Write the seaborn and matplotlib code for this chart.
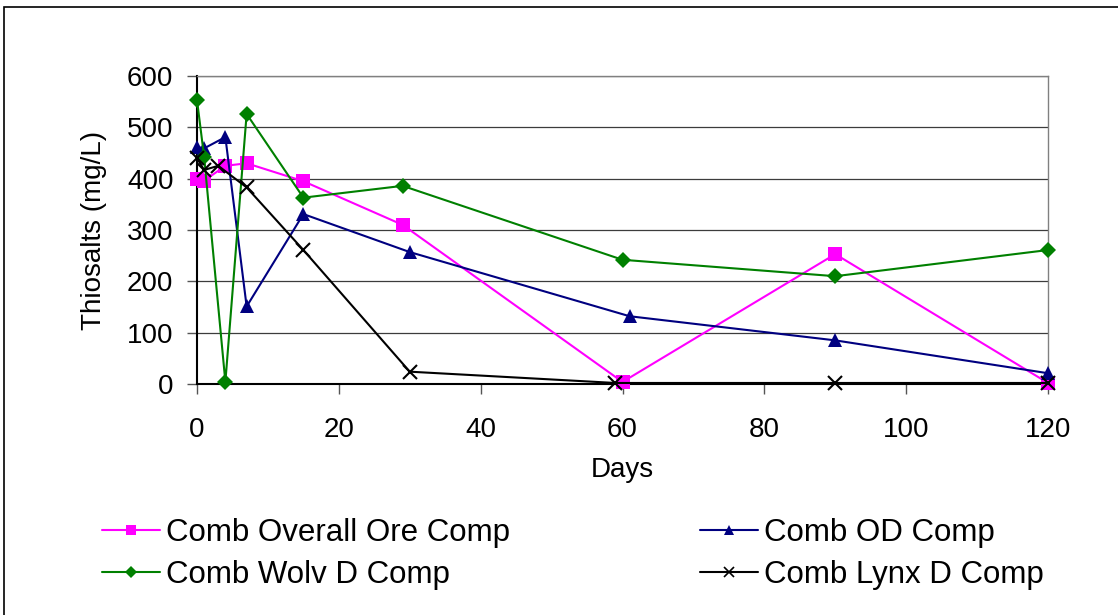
import matplotlib
matplotlib.use("Agg")
import matplotlib.pyplot as plt
from matplotlib.patches import Rectangle
from matplotlib.lines import Line2D
import seaborn as sns
import pandas as pd

# Thiosalt concentrations (mg/L) over time (days) for each composite
days_overall = [0, 1, 4, 7, 15, 29, 60, 90, 120]
overall_ore = [399, 396, 425, 430, 395, 310, 4, 253, 2]

days_od = [0, 1, 4, 7, 15, 30, 61, 90, 120]
od_comp = [462, 459, 481, 151, 331, 257, 132, 85, 21]

days_wolv = [0, 1, 4, 7, 15, 29, 60, 90, 120]
wolv_d = [553, 443, 4, 526, 363, 386, 242, 210, 261]

days_lynx = [0, 1, 3, 7, 15, 30, 59, 90, 120]
lynx_d = [440, 417, 425, 383, 261, 24, 2, 2, 2]

series_names = ["Comb Overall Ore Comp", "Comb OD Comp",
                "Comb Wolv D Comp", "Comb Lynx D Comp"]
x_ticks = [0, 20, 40, 60, 80, 100, 120]
y_ticks = [0, 100, 200, 300, 400, 500, 600]

sns.set_theme(style="white")
plt.rcParams["font.family"] = ["Liberation Sans", "DejaVu Sans"]
plt.rcParams["text.color"] = "black"
plt.rcParams["axes.labelcolor"] = "black"
plt.rcParams["xtick.labelcolor"] = "black"
plt.rcParams["ytick.labelcolor"] = "black"

W, H = 1118, 615
fig = plt.figure(figsize=(W / 100, H / 100), dpi=100)
ax = fig.add_axes([197 / W, 1 - 384 / H, (1048 - 197) / W, (384 - 76) / H])

styles = {
    "Comb Overall Ore Comp": dict(color="#FF00FF", marker="s", ms=9.5, mew=0),
    "Comb OD Comp": dict(color="#000080", marker="^", ms=10.5, mew=0),
    "Comb Wolv D Comp": dict(color="#008000", marker="D", ms=7.8, mew=0),
    "Comb Lynx D Comp": dict(color="#000000", marker="x", ms=9.5, mew=1.5),
}

data = {
    "Comb Overall Ore Comp": (days_overall, overall_ore),
    "Comb OD Comp": (days_od, od_comp),
    "Comb Wolv D Comp": (days_wolv, wolv_d),
    "Comb Lynx D Comp": (days_lynx, lynx_d),
}

# grid first so the series sit on top of it
for yv in y_ticks[1:]:
    ax.axhline(yv, color="#3c3c3c", lw=0.9, zorder=1)

for name in series_names:
    xs, ys = data[name]
    df = pd.DataFrame({"Days": xs, "Thiosalts": ys})
    st = styles[name]
    sns.lineplot(data=df, x="Days", y="Thiosalts", ax=ax, sort=False,
                 color=st["color"], lw=1.5, marker=st["marker"],
                 markersize=st["ms"], markeredgewidth=st["mew"],
                 markeredgecolor=st["color"], markerfacecolor=st["color"],
                 zorder=3, clip_on=False, legend=False)

ax.set_xlim(0, 120)
ax.set_ylim(0, 600)
ax.set_xticks(x_ticks)
ax.set_yticks(y_ticks)
ax.tick_params(axis="both", which="major", labelsize=20, length=7,
               width=1.0, color="#555555", direction="out",
               bottom=True, left=True, labelcolor="black")
ax.tick_params(axis="x", pad=17)
ax.tick_params(axis="y", pad=10)

for side in ("top", "right"):
    ax.spines[side].set_color("#808080")
    ax.spines[side].set_linewidth(1.0)
for side in ("left", "bottom"):
    ax.spines[side].set_color("#000000")
    ax.spines[side].set_linewidth(1.5)
    ax.spines[side].set_zorder(2)

ax.set_xlabel("Days", fontsize=20, labelpad=10, color="black")
ax.set_ylabel("Thiosalts (mg/L)", fontsize=20, labelpad=14, color="black")

# legend: two columns, row-wise reading order
order = ["Comb Overall Ore Comp", "Comb Wolv D Comp",
         "Comb OD Comp", "Comb Lynx D Comp"]
handles = []
for name in order:
    st = styles[name]
    handles.append(Line2D([], [], color=st["color"], lw=1.5,
                          marker=st["marker"], markersize=st["ms"] * 0.75,
                          markeredgewidth=st["mew"] * 0.8,
                          markerfacecolor=st["color"],
                          markeredgecolor=st["color"]))
fig.legend(handles, order, loc="center", ncol=2, frameon=False,
           fontsize=22.5, bbox_to_anchor=(573 / W, 1 - 554 / H),
           handlelength=1.85, handletextpad=0.2, columnspacing=6.1,
           labelspacing=0.4, borderpad=0)

# outer chart border
fig.patches.append(Rectangle((4, -10), 1130, H - 7 + 10, transform=None,
                             fill=False, edgecolor="black", lw=1.2))

fig.savefig("out.png", dpi=100)
